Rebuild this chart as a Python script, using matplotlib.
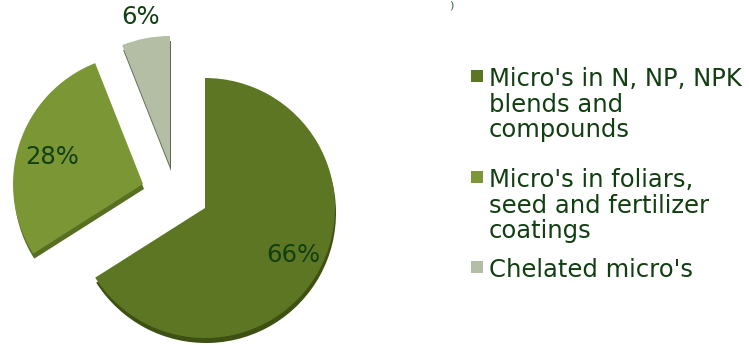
import matplotlib.pyplot as plt

# parts du marché des micro-éléments
parts = [66, 28, 6]
etiquettes = ["66%", "28%", "6%"]
legende = ["Micro's in N, NP, NPK\nblends and\ncompounds",
           "Micro's in foliars,\nseed and fertilizer\ncoatings",
           "Chelated micro's"]

couleurs = ["#5d7624", "#7a9635", "#b3bea5"]
cotes = ["#3e5112", "#566f20", "#5f6a55"]
couleurTexte = "#113f11"

figsize = (7.49, 3.45)
centre = (205, 137)
rayon = 130
# décalage de chaque part (pixels)
decalages = [(0, 0), (-62, 24), (-35, 42)]
epaisseur = 5
taille = 17.5

fig = plt.figure(figsize=figsize, dpi=100)
ax = fig.add_axes([0, 0, 1, 1])

# couche sombre pour l'effet 3D
dessous, _ = ax.pie(parts, colors=cotes, startangle=90, counterclock=False,
                    radius=rayon, center=centre, frame=True)
dessus, _ = ax.pie(parts, colors=couleurs, startangle=90, counterclock=False,
                   radius=rayon, center=centre, frame=True)

for i in range(len(parts)):
    dx, dy = decalages[i]
    dessous[i].set_center((centre[0] + dx + 1, centre[1] + dy - epaisseur))
    dessus[i].set_center((centre[0] + dx, centre[1] + dy))

# pourcentages
posEtiquettes = [(293, 90), (52, 188), (141, 328)]
for i in range(len(parts)):
    ax.text(posEtiquettes[i][0], posEtiquettes[i][1], etiquettes[i],
            fontsize=taille, color=couleurTexte, ha="center", va="center")

# légende
yLegende = [278, 177, 87]
for i in range(len(legende)):
    ax.scatter([477], [yLegende[i] - 9], marker="s", s=75, color=couleurs[i],
               linewidths=0)
    ax.text(489, yLegende[i], legende[i], fontsize=taille, color=couleurTexte,
            ha="left", va="top", linespacing=1.08)

ax.text(451, 344, ")", fontsize=8, color="#2f6a2f", ha="center", va="top")

ax.set_xlim(0, 749)
ax.set_ylim(0, 345)
ax.set_aspect("auto")
ax.axis("off")

plt.savefig("out.png", dpi=100)
